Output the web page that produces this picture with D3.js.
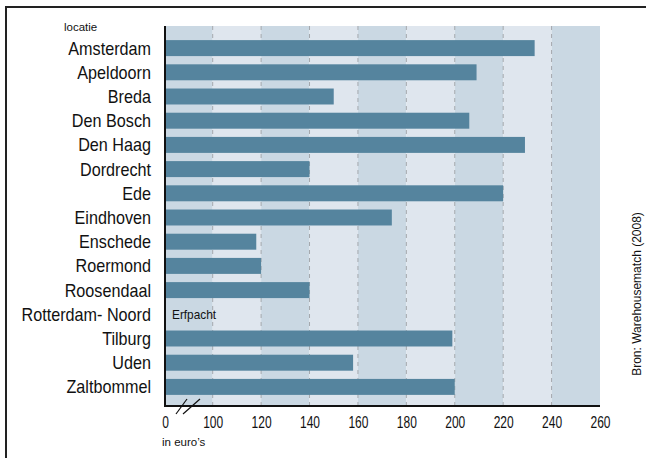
<!DOCTYPE html>
<html lang="nl">
<head>
<meta charset="UTF-8">
<title>Huurprijzen per locatie</title>
<script src="https://d3js.org/d3.v7.min.js"></script>
<style>
  body { margin: 0; background: #fff; }
  svg { display: block; }
  text { font-family: 'Liberation Sans', Arial, sans-serif; fill: #111; }
</style>
</head>
<body>
<svg id="chart" width="646" height="458"></svg>
<script>
// data (euro per m2)
const locations = ["Amsterdam", "Apeldoorn", "Breda", "Den Bosch", "Den Haag", "Dordrecht", "Ede",
  "Eindhoven", "Enschede", "Roermond", "Roosendaal", "Rotterdam- Noord", "Tilburg", "Uden", "Zaltbommel"];
const prices = [233, 209, 150, 206, 229, 140, 220, 174, 118, 120, 140, null, 199, 158, 200];
const tickValues = [0, 100, 120, 140, 160, 180, 200, 220, 240, 260];
const gridValues = [100, 120, 140, 160, 180, 200, 220, 240];

const svg = d3.select("#chart");

// axis is broken between 0 and 100
const x = d3.scaleLinear().domain([0, 100, 260]).range([165, 212.7, 600]);
const y = d3.scaleBand().domain(locations).range([36, 399]).paddingInner(0.34).paddingOuter(0.17);

const plotTop = 26, plotBottom = 406;

// condensed look: squeeze text horizontally
const squeeze = (tx, ty, s) => `translate(${tx},${ty}) scale(${s},1)`;

// frame
svg.append("path")
  .attr("d", "M6,458V7H646")
  .attr("fill", "none").attr("stroke", "#222").attr("stroke-width", 2);

// alternating background bands
const bands = d3.pairs(tickValues);
svg.append("g").selectAll("rect")
  .data(bands)
  .join("rect")
  .attr("x", d => x(d[0]))
  .attr("width", d => x(d[1]) - x(d[0]))
  .attr("y", plotTop)
  .attr("height", plotBottom - plotTop)
  .attr("fill", (d, i) => i % 2 === 0 ? "#cad8e3" : "#dfe6ee");

// dashed grid
svg.append("g").selectAll("line")
  .data(gridValues)
  .join("line")
  .attr("x1", d => x(d)).attr("x2", d => x(d))
  .attr("y1", plotTop).attr("y2", plotBottom)
  .attr("stroke", "#a4a8ad").attr("stroke-width", 1)
  .attr("stroke-dasharray", "4,4");

// bars
svg.append("g").selectAll("rect")
  .data(locations.map((l, i) => ({ l, v: prices[i] })).filter(d => d.v !== null))
  .join("rect")
  .attr("x", x(0))
  .attr("y", d => y(d.l))
  .attr("width", d => x(d.v) - x(0))
  .attr("height", y.bandwidth())
  .attr("fill", "#55849e");

// Erfpacht note
locations.forEach((l, i) => {
  if (prices[i] === null) {
    svg.append("text")
      .attr("transform", squeeze(x(0) + 7, y(l) + y.bandwidth() / 2 + 4.5, 0.91))
      .attr("font-size", 13)
      .text("Erfpacht");
  }
});

// category labels
svg.append("g").selectAll("text")
  .data(locations)
  .join("text")
  .attr("transform", d => squeeze(151, y(d) + y.bandwidth() / 2 + 6.5, 0.925))
  .attr("text-anchor", "end")
  .attr("font-size", 17.5)
  .text(d => d);

svg.append("text")
  .attr("x", 64).attr("y", 31)
  .attr("font-size", 11.5)
  .text("locatie");

// axes lines
svg.append("line")
  .attr("x1", x(0)).attr("x2", x(0))
  .attr("y1", plotTop).attr("y2", plotBottom + 1)
  .attr("stroke", "#111").attr("stroke-width", 2);
svg.append("line")
  .attr("x1", x(0) - 1).attr("x2", x(260))
  .attr("y1", plotBottom).attr("y2", plotBottom)
  .attr("stroke", "#111").attr("stroke-width", 2);

// break marks
const brk = svg.append("g");
[[176, 187], [183, 200]].forEach(([a, b]) => {
  brk.append("line")
    .attr("x1", a).attr("y1", 414).attr("x2", b).attr("y2", 399)
    .attr("stroke", "#111").attr("stroke-width", 1.2);
});

// tick labels
svg.append("g").selectAll("text")
  .data(tickValues)
  .join("text")
  .attr("transform", d => squeeze(x(d) + 0.5, 428, 0.75))
  .attr("text-anchor", "middle")
  .attr("font-size", 16)
  .text(d => d);

svg.append("text")
  .attr("x", 162).attr("y", 446)
  .attr("font-size", 11.5)
  .text("in euro\u2019s");

// source
svg.append("text")
  .attr("transform", "translate(641,294) rotate(-90)")
  .attr("text-anchor", "middle")
  .attr("font-size", 12)
  .text("Bron: Warehousematch (2008)");
</script>
</body>
</html>
